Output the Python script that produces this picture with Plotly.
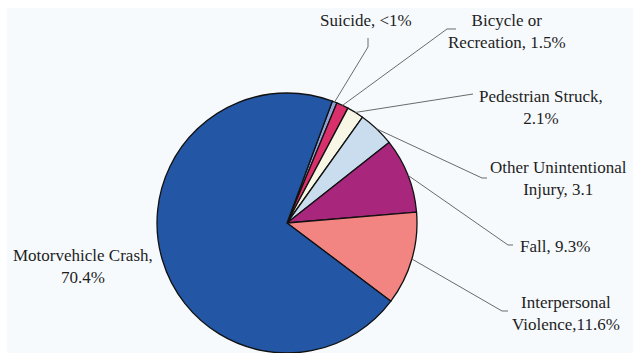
import math
import plotly.graph_objects as go

# ---- data ----
categories = ["Suicide", "Bicycle or Recreation", "Pedestrian Struck",
              "Other Unintentional Injury", "Fall", "Interpersonal Violence",
              "Motorvehicle Crash"]
values = [0.6, 1.5, 2.1, 4.5, 9.3, 11.6, 70.4]
label_texts = ["Suicide, <1%", "Bicycle or<br>Recreation, 1.5%",
               "Pedestrian Struck,<br>2.1%", "Other Unintentional<br>Injury, 3.1",
               "Fall, 9.3%", "Interpersonal<br>Violence,11.6%",
               "Motorvehicle Crash,<br>70.4%"]
colors = ["#8EA2D6", "#D92F6A", "#F8F6E4", "#C9DDEE", "#A8267C", "#F28482", "#2357A5"]

# ---- layout (pixels) ----
W, H = 633, 353
CX, CY, R = 287, 223, 130
ROTATION = 20.4

label_pos = [(366, 20), (507, 31), (541, 107), (558, 179), (555, 246), (566, 313), (83, 266)]
leader_tail = [[(368, 47), (368, 38)],
               [(447, 29), (456, 29)],
               [(473, 94)],
               [(482, 178), (487, 178)],
               [(508, 245), (513, 245)],
               [(502, 311), (508, 311)],
               None]

def px(x):
    return x / W

def py(y):
    return 1 - y / H

fig = go.Figure(go.Pie(
    labels=categories, values=values, sort=False, direction="clockwise",
    rotation=ROTATION, textinfo="none", hoverinfo="label+percent",
    marker=dict(colors=colors, line=dict(color="#111111", width=1.3)),
    domain=dict(x=[px(CX - R), px(CX + R)], y=[py(CY + R), py(CY - R)]),
    showlegend=False,
))

shapes = [dict(type="rect", xref="paper", yref="paper", x0=px(7), x1=1, y0=0, y1=py(8),
               fillcolor="#F7FAFD", line=dict(width=0), layer="below")]
annotations = []
total = sum(values)
cum = 0.0
for v, txt, (lx, ly), tail in zip(values, label_texts, label_pos, leader_tail):
    mid = ROTATION + (cum + v / 2) / total * 360
    cum += v
    if tail:
        a = math.radians(mid)
        sx, sy = CX + R * math.sin(a), CY - R * math.cos(a)
        pts = [(sx, sy)] + tail
        path = "M " + " L ".join(f"{px(x):.5f},{py(y):.5f}" for x, y in pts)
        shapes.append(dict(type="path", xref="paper", yref="paper", path=path,
                           line=dict(color="#6A6A6A", width=1)))
    annotations.append(dict(x=px(lx), y=py(ly), xref="paper", yref="paper", text=txt,
                            showarrow=False, xanchor="center", yanchor="middle", align="center",
                            font=dict(family="Liberation Serif", size=17, color="#1E1E1E")))

fig.update_layout(width=W, height=H, margin=dict(l=0, r=0, t=0, b=0),
                  paper_bgcolor="white", plot_bgcolor="white",
                  shapes=shapes, annotations=annotations)
fig.write_html("out.html", config={"displayModeBar": False},
               post_script="document.body.style.margin='0';document.body.style.overflow='hidden';")
